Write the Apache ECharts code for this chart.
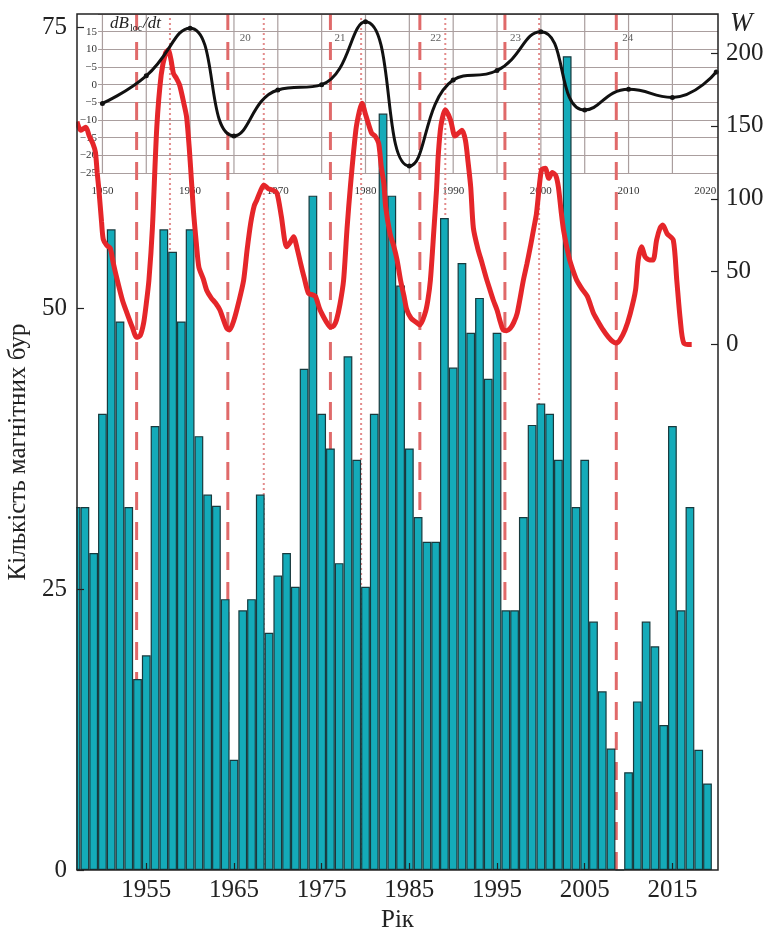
<!DOCTYPE html>
<html><head><meta charset="utf-8">
<script src="https://cdn.jsdelivr.net/npm/echarts@6/dist/echarts.min.js"></script>
<style>html,body{margin:0;padding:0;background:#fff}#c{width:768px;height:929px}</style>
</head><body><div id="c"></div>
<script>
// ---- data ----
const years = [1947,1948,1949,1950,1951,1952,1953,1954,1955,1956,1957,1958,1959,1960,1961,1962,1963,1964,1965,1966,1967,1968,1969,1970,1971,1972,1973,1974,1975,1976,1977,1978,1979,1980,1981,1982,1983,1984,1985,1986,1987,1988,1989,1990,1991,1992,1993,1994,1995,1996,1997,1998,1999,2000,2001,2002,2003,2004,2005,2006,2007,2008,2009,2010,2011,2012,2013,2014,2015,2016,2017,2018,2019];
const stormCounts = [32.3,32.3,28.2,40.6,57,48.8,32.3,17,19.1,39.5,57,55,48.8,57,38.6,33.4,32.4,24.1,9.8,23.1,24.1,33.4,21.1,26.2,28.2,25.2,44.6,60,40.6,37.5,27.3,45.7,36.5,25.2,40.6,67.3,60,52,37.5,31.4,29.2,29.2,58,44.7,54,47.8,50.9,43.7,47.8,23.1,23.1,31.4,39.6,41.5,40.6,36.5,72.4,32.3,36.5,22.1,15.9,10.8,0,8.7,15,22.1,19.9,12.9,39.5,23.1,32.3,10.7,7.7];

const wYears = [1947.1,1947.5,1948.1,1948.5,1948.9,1949.2,1949.4,1949.6,1949.9,1950.1,1950.5,1950.9,1951.2,1951.7,1952.3,1952.8,1953.4,1953.9,1954.3,1954.7,1955.0,1955.3,1955.7,1956.2,1956.7,1957.2,1957.5,1957.8,1958.1,1958.4,1958.8,1959.3,1959.6,1959.9,1960.2,1960.4,1960.7,1961.0,1961.5,1961.9,1962.4,1962.9,1963.4,1963.8,1964.2,1964.5,1965.0,1965.5,1966.1,1966.5,1966.9,1967.3,1967.6,1968.0,1968.4,1968.9,1969.4,1969.9,1970.4,1971.0,1971.4,1971.8,1972.2,1972.6,1973.0,1973.5,1974.0,1974.3,1974.8,1975.3,1975.7,1976.0,1976.4,1976.7,1977.1,1977.5,1977.9,1978.3,1978.9,1979.3,1979.6,1980.0,1980.2,1980.7,1981.1,1981.5,1981.8,1982.1,1982.3,1982.8,1983.2,1983.6,1984.0,1984.4,1984.7,1985.2,1985.7,1986.2,1986.8,1987.1,1987.4,1987.8,1988.1,1988.3,1988.6,1989.1,1989.7,1990.2,1990.6,1991.0,1991.4,1991.7,1992.0,1992.3,1992.8,1993.3,1993.8,1994.2,1994.6,1995.0,1995.4,1995.7,1996.1,1996.5,1996.9,1997.3,1998.0,1998.4,1998.8,1999.2,1999.5,1999.9,2000.1,2000.5,2000.9,2001.3,2001.7,2002.0,2002.3,2002.6,2003.2,2003.6,2004.1,2004.7,2005.3,2006.0,2006.5,2007.1,2007.7,2008.2,2008.6,2009.0,2009.6,2010.2,2010.8,2011.1,2011.5,2011.9,2012.4,2012.8,2013.2,2013.6,2013.9,2014.4,2015.1,2015.5,2015.9,2016.3,2017.2];
const wValues = [153,147,149,143,138,132,118,106,84,72,68,66,57,44,30,21.6,12,5,6,14.7,28,44,80,149,185,200,202,196,186,183,178,165,156,135,108,90,70,53,45,37,32,28.5,23.7,17,11,10,16.8,28,44,65,83,95,99,105,109.5,107,106,104,88,67,70,74,66,55.7,46,35,34,33,24,18,14,12,13,17,28,44,80,110,147,160,165.5,158,154,145,143,138,122,110,94.5,76,68,58,44,33,24,18,15.6,13.4,21.6,30,44,78.6,106,130,150,161,154,143,145,147,140,125,108,80,66,55.7,45,37.4,30,23.7,15,10,9.5,11,15,21.4,44,55,67,80,90,113,120,121,114,118,116,108,92,78,60,52,44,38,33,21.4,16,10,5,2,1,3,10,21.4,37.4,58,67,60,58,58,71.7,80,82,76,71.7,44,16.8,1,0];

const dbYears = [1950,1955,1960,1965,1970,1975,1980,1985,1990,1995,2000,2005,2010,2015,2020];
const dbValues = [-5.3,2.5,16,-14.5,-1.5,0,17.8,-23,1.3,4,15,-7.2,-1.3,-3.6,3.6];

const minYears = [1953.9,1964.3,1976.0,1986.2,1995.9,2008.6];
const maxYears = [1957.7,1968.4,1979.5,1989.1,1999.8];

const xTickYears = [1955,1965,1975,1985,1995,2005,2015];
const countTicks = [0,25,50,75];
const insetYearLabels = [1950,1960,1970,1980,1990,2000,2010,2020];
const insetGridYears = [1950,1955,1960,1965,1970,1975,1980,1985,1990,1995,2000,2005,2010,2015];
const insetTickValues = [15,10,5,0,-5,-10,-15,-20,-25];
const insetTickLabels = ['15','10','−5','0','−5','−10','−15','−20','−25'];
const cycleNames = ['20','21','22','23','24'];
const cycleYears = [1966.3,1977.1,1988.0,1997.1,2009.9];
const cycleLabelLevel = 13.2;

// ---- layout ----
const X0 = 1947.1, X1 = 2020.2;
const L = 77, R = 50;
const plotW = 768 - L - R;
const insetLeft = 98;
const insetMin = X0 + (insetLeft - L) * (X1 - X0) / plotW;
const Y0MAX = 76.16;
const serif = '"Liberation Serif","DejaVu Serif",serif';
const ink = '#222';
const plain = v => String(Math.round(v));

const series = [];
insetGridYears.forEach(y => series.push({
  type:'line', xAxisIndex:2, yAxisIndex:2, z:1, silent:true, symbol:'none', clip:false,
  data:[[y,-25],[y,20]], lineStyle:{color:'#aa9e9e', width:1.2}
}));
minYears.forEach(y => series.push({
  type:'line', xAxisIndex:0, yAxisIndex:0, z:1, silent:true, symbol:'none',
  data:[[y,0],[y,Y0MAX]], lineStyle:{color:'#e06a6a', width:3, type:[18,12]}
}));
maxYears.forEach(y => series.push({
  type:'line', xAxisIndex:0, yAxisIndex:0, z:1, silent:true, symbol:'none',
  data:[[y,0],[y,Y0MAX]], lineStyle:{color:'#e38c8c', width:2, type:[2,3]}
}));
series.push({
  type:'bar', xAxisIndex:0, yAxisIndex:0, z:2, barWidth:'100%', clip:true,
  data: years.map((y,i)=>[y, stormCounts[i]]),
  itemStyle:{color:'#14abb9', borderColor:'#173a3e', borderWidth:1.2}
});
series.push({
  type:'line', xAxisIndex:1, yAxisIndex:1, z:3, symbol:'none', clip:false, smooth:0.25,
  data: wYears.map((y,i)=>[y, wValues[i]]),
  lineStyle:{color:'#e5262a', width:5}
});
series.push({
  type:'line', xAxisIndex:2, yAxisIndex:2, z:4, smooth:true, clip:false,
  symbol:'circle', symbolSize:5,
  data: dbYears.map((y,i)=>[y, dbValues[i]]),
  lineStyle:{color:'#111', width:3}, itemStyle:{color:'#111'}
});
series.push({
  type:'scatter', xAxisIndex:2, yAxisIndex:2, z:4, symbolSize:1, silent:true,
  itemStyle:{color:'rgba(0,0,0,0)'},
  data: cycleYears.map((y,i)=>({name:cycleNames[i], value:[y, cycleLabelLevel]})),
  label:{show:true, position:'inside', formatter:'{b}', fontFamily:serif, fontSize:11, color:'#333'}
});

const option = {
  animation:false,
  backgroundColor:'#fff',
  grid:[
    {left:L, right:R, top:14, bottom:59, outerBoundsMode:'none', containLabel:false, show:true, borderColor:ink, borderWidth:1.5, backgroundColor:'rgba(0,0,0,0)', z:8},
    {left:L, right:R, top:53, bottom:929-344.5, outerBoundsMode:'none', containLabel:false},
    {left:insetLeft, right:R, top:14, bottom:929-173, outerBoundsMode:'none', containLabel:false}
  ],
  xAxis:[
    {gridIndex:0, type:'value', min:X0, max:X1, axisLine:{show:false}, splitLine:{show:false}, z:10,
     axisTick:{inside:true, length:7, customValues:xTickYears, lineStyle:{color:ink, width:1.2}},
     axisLabel:{customValues:xTickYears, formatter:plain, fontFamily:serif, fontSize:25, color:ink, margin:8},
     name:'Рік', nameLocation:'middle', nameGap:27,
     nameTextStyle:{fontFamily:serif, fontSize:25, color:ink}},
    {gridIndex:1, type:'value', min:X0, max:X1, show:false},
    {gridIndex:2, type:'value', min:insetMin, max:X1, axisLine:{show:false}, axisTick:{show:false}, splitLine:{show:false},
     axisLabel:{customValues:insetYearLabels, formatter:plain, fontFamily:serif, fontSize:11, color:'#333', margin:13, alignMaxLabel:'right'}}
  ],
  yAxis:[
    {gridIndex:0, type:'value', min:0, max:Y0MAX, axisLine:{show:false}, splitLine:{show:false}, z:10,
     axisTick:{inside:true, length:7, customValues:countTicks, lineStyle:{color:ink, width:1.2}},
     axisLabel:{customValues:countTicks, formatter:plain, fontFamily:serif, fontSize:25, color:ink, margin:10},
     name:'Кількість магнітних бур', nameLocation:'middle', nameGap:44,
     nameTextStyle:{fontFamily:serif, fontSize:25, color:ink, padding:[0,20,0,0]}},
    {gridIndex:1, type:'value', position:'right', min:0, max:200, interval:50, z:10,
     axisLine:{show:false}, splitLine:{show:false},
     axisTick:{inside:true, length:7, lineStyle:{color:ink, width:1.2}},
     axisLabel:{formatter:plain, fontFamily:serif, fontSize:25, color:ink, margin:8},
     name:'W', nameLocation:'end', nameGap:16,
     nameTextStyle:{fontFamily:serif, fontStyle:'italic', fontSize:27, color:ink, align:'left', padding:[0,0,0,12]}},
    {gridIndex:2, type:'value', min:-25, max:20, interval:5,
     axisLine:{show:false}, axisTick:{show:false},
     splitLine:{show:true, lineStyle:{color:'#aa9e9e', width:1.2}},
     axisLabel:{customValues:insetTickValues, fontFamily:serif, fontSize:11, color:'#333', margin:1,
       formatter: v => insetTickLabels[insetTickValues.indexOf(Math.round(v))]}}
  ],
  graphic:[
    {type:'rect', left:0, top:0, z:6, silent:true, shape:{width:L-0.8, height:929}, style:{fill:'#fff'}},
    {type:'text', left:110, top:15, z:10,
     style:{
       text:'{i|dB}{s|loc}{i|/dt}',
       rich:{
         i:{fontFamily:serif, fontStyle:'italic', fontSize:17, fill:ink},
         s:{fontFamily:serif, fontSize:10, fill:ink, padding:[10,1,0,1]}
       }
     }}
  ],
  series
};
const chart = echarts.init(document.getElementById('c'), null, {renderer:'canvas'});
chart.setOption(option);
</script></body></html>
